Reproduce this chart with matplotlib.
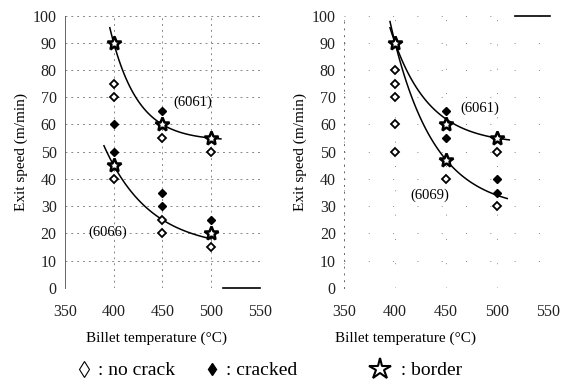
import numpy as np
import matplotlib
matplotlib.use("Agg")
import matplotlib.pyplot as plt
from matplotlib.lines import Line2D

plt.rcParams['font.family'] = ['Liberation Serif', 'DejaVu Serif']

# data points (left panel: 6061 and 6066)
temps = [400, 450, 500]
l_nocrack_x = [400, 400, 450, 500, 400, 450, 450, 500]
l_nocrack_y = [75, 70, 55, 50, 40, 25, 20, 15]
l_cracked_x = [400, 450, 400, 450, 450, 500]
l_cracked_y = [60, 65, 50, 35, 30, 25]
l_border_x = [400, 450, 500, 400, 500]
l_border_y = [90, 60, 55, 45, 20]
l_6061_curve = [90, 60, 55]
l_6066_curve = [45, 25, 18]

# right panel: 6061 and 6069
r_nocrack_x = [400, 400, 400, 400, 400, 450, 500, 500]
r_nocrack_y = [80, 75, 70, 60, 50, 40, 50, 30]
r_cracked_x = [450, 450, 500, 500]
r_cracked_y = [65, 55, 40, 35]
r_border_x = [400, 450, 450, 500]
r_border_y = [90, 60, 47, 55]
r_6061_curve = [90, 62, 55]
r_6069_curve = [90, 47, 34]

xticks = [350, 400, 450, 500, 550]
yticks = list(range(0, 101, 10))


def decay(vals, x0, x1):
    # exponential decay through three equally spaced points
    y0, y1, y2 = vals
    c = (y0 * y2 - y1 ** 2) / (y0 + y2 - 2 * y1)
    a = y0 - c
    b = -np.log((y1 - c) / a) / 50.0
    x = np.linspace(x0, x1, 100)
    return x, c + a * np.exp(-b * (x - 400))


fig = plt.figure(figsize=(5.65, 3.9), dpi=100)
ax1 = fig.add_axes([0.115, 0.262, 0.345, 0.698])
ax2 = fig.add_axes([0.609, 0.262, 0.361, 0.698])


def style(ax, gridls, spinels):
    ax.set_xlim(350, 550)
    ax.set_ylim(0, 100)
    ax.set_xticks(xticks)
    ax.set_yticks(yticks)
    ax.tick_params(length=0, labelsize=11.5, colors='#222222')
    ax.tick_params(axis='x', pad=12)
    ax.tick_params(axis='y', pad=6)
    for s in ['top', 'right', 'bottom']:
        ax.spines[s].set_visible(False)
    ax.spines['left'].set_linewidth(0.7)
    ax.spines['left'].set_color('#666666')
    ax.spines['left'].set_linestyle(spinels)
    ax.grid(True, linestyle=gridls, color='#888888', linewidth=0.7)
    ax.set_axisbelow(True)
    ax.set_xlabel('Billet temperature (°C)', fontsize=11)
    ax.set_ylabel('Exit speed (m/min)', fontsize=11)


style(ax1, (0, (2, 4)), '-')
style(ax2, (0, (1, 24)), (0, (1, 6)))
ax1.xaxis.set_label_coords(0.47, -0.16)
ax2.xaxis.set_label_coords(0.30, -0.16)
ax1.yaxis.set_label_coords(-0.19, 0.5)
ax2.yaxis.set_label_coords(-0.18, 0.5)

# left panel
x, y = decay(l_6061_curve, 396, 510)
ax1.plot(x, y, color='black', lw=1.1)
x, y = decay(l_6066_curve, 390, 500)
ax1.plot(x, y, color='black', lw=1.1)
ax1.plot(l_nocrack_x, l_nocrack_y, 'D', ms=4.5, mfc='white', mec='black', mew=1.3)
ax1.plot(l_cracked_x, l_cracked_y, 'D', ms=4.5, mfc='black', mec='black')
ax1.plot(l_border_x, l_border_y, '*', ms=10.5, mfc='white', mec='black', mew=1.8)
ax1.plot([512, 550], [0, 0], color='black', lw=1.2, clip_on=False)
ax1.text(481, 68, '(6061)', fontsize=10.5, ha='center', va='center')
ax1.text(394, 20.5, '(6066)', fontsize=10.5, ha='center', va='center')

# right panel
x, y = decay(r_6061_curve, 395, 512)
ax2.plot(x, y, color='black', lw=1.1)
x, y = decay(r_6069_curve, 395, 510)
ax2.plot(x, y, color='black', lw=1.1)
ax2.plot(r_nocrack_x, r_nocrack_y, 'D', ms=4.5, mfc='white', mec='black', mew=1.3)
ax2.plot(r_cracked_x, r_cracked_y, 'D', ms=4.5, mfc='black', mec='black')
ax2.plot(r_border_x, r_border_y, '*', ms=10.5, mfc='white', mec='black', mew=1.8)
ax2.plot([518, 552], [100, 100], color='black', lw=1.2, clip_on=False)
ax2.text(483, 66, '(6061)', fontsize=10.5, ha='center', va='center')
ax2.text(434, 34, '(6069)', fontsize=10.5, ha='center', va='center')

# legend at the bottom
h_diamonds = [
    Line2D([], [], ls='', marker='d', ms=8, mfc='white', mec='black', mew=0.8),
    Line2D([], [], ls='', marker='d', ms=6, mfc='black', mec='black'),
]
h_star = [Line2D([], [], ls='', marker='*', ms=16, mfc='white', mec='black', mew=1.5)]
leg1 = fig.legend(h_diamonds, [': no crack', ': cracked'], loc='center',
                  bbox_to_anchor=(0.332, 0.05), ncol=2, frameon=False, fontsize=14,
                  handlelength=0.6, handletextpad=0.4, columnspacing=1.6)
fig.legend(h_star, [' : border'], loc='center', bbox_to_anchor=(0.738, 0.05),
           frameon=False, fontsize=14, handlelength=0.8, handletextpad=0.4)

plt.savefig('out.png', dpi=100)
